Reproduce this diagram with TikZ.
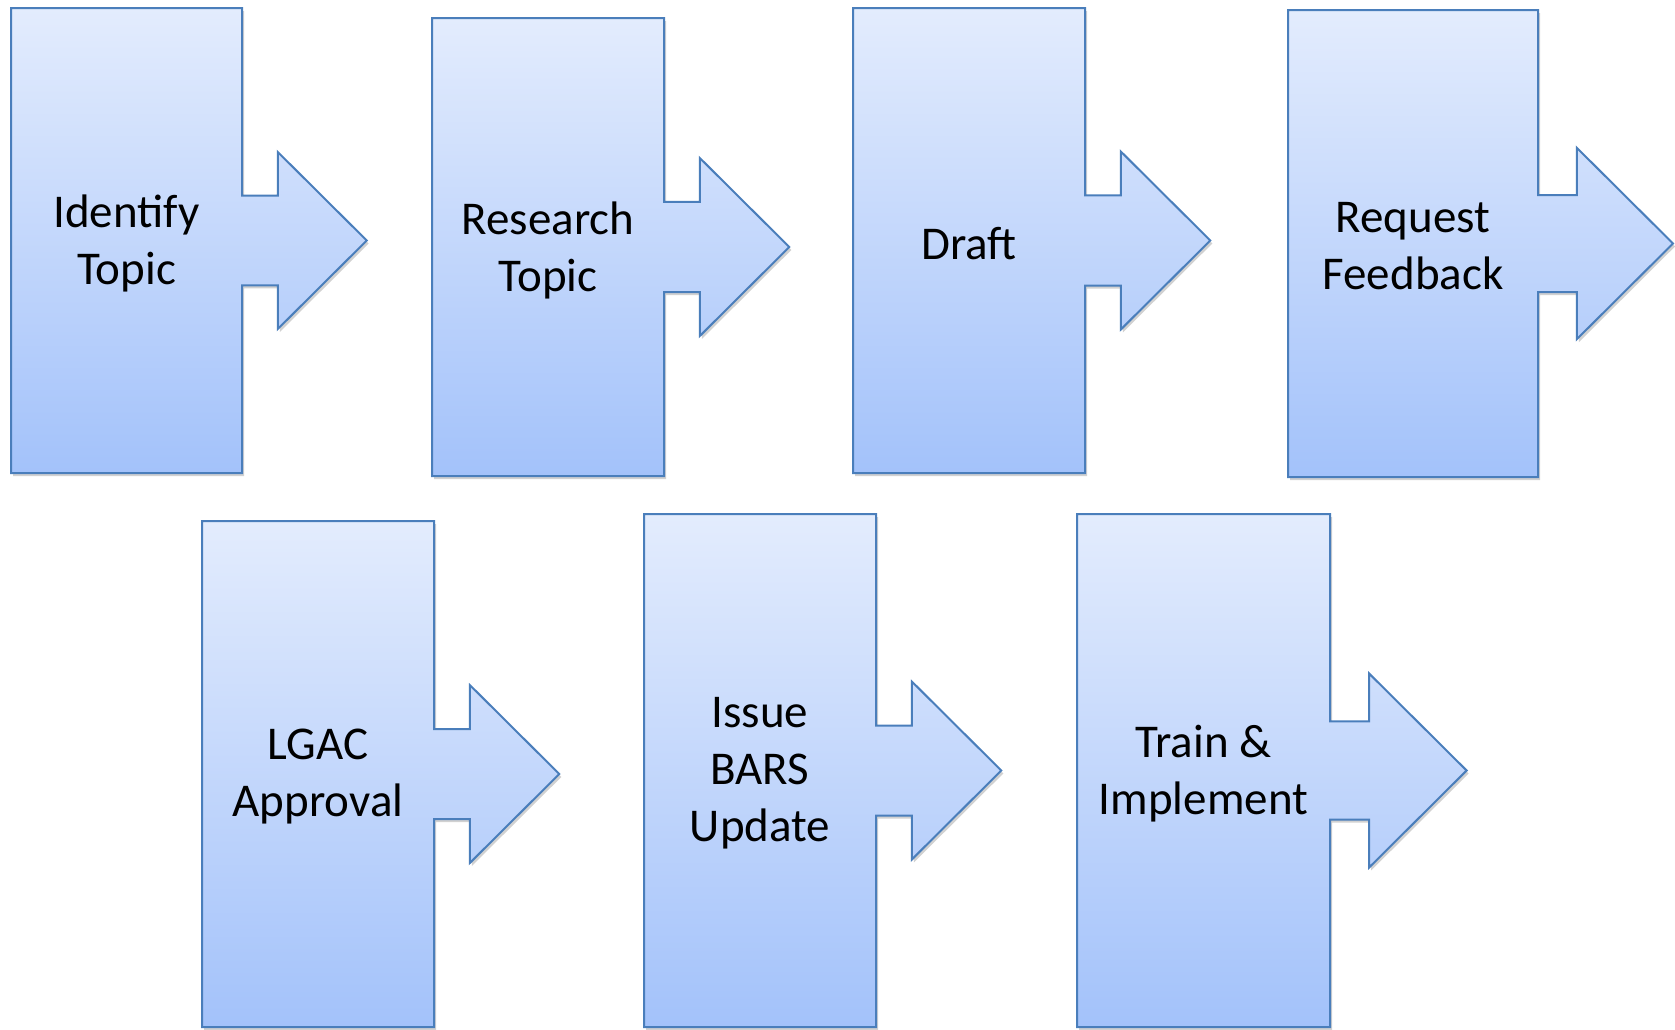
\documentclass[tikz,border=0pt]{standalone}
\usepackage{fontspec}
\setmainfont{Carlito}
\usetikzlibrary{shadows}
\definecolor{stepedge}{RGB}{74,126,187}
\definecolor{steptop}{RGB}{227,236,253}
\definecolor{stepbot}{RGB}{163,194,250}
% box with a right arrow on its side: name, left, top, right, bottom, text
\newcommand{\stepcallout}[6]{%
  \pgfmathsetmacro{\stepw}{#4-#2}%
  \pgfmathsetmacro{\stepmid}{(#3+#5)/2}%
  \pgfmathsetmacro{\stepneck}{0.194*\stepw}%
  \pgfmathsetmacro{\stephead}{0.383*\stepw}%
  \pgfmathsetmacro{\stepbase}{#4+0.155*\stepw}%
  \pgfmathsetmacro{\steptip}{#4+0.54*\stepw}%
  \draw[callout] (#2,#3) -- (#4,#3) -- (#4,\stepmid-\stepneck) -- (\stepbase,\stepmid-\stepneck)
    -- (\stepbase,\stepmid-\stephead) -- (\steptip,\stepmid) -- (\stepbase,\stepmid+\stephead)
    -- (\stepbase,\stepmid+\stepneck) -- (#4,\stepmid+\stepneck) -- (#4,#5) -- (#2,#5) -- cycle;
  \node[steplabel] (#1) at ({(#2+#4)/2},\stepmid+3) {#6};
}

\begin{document}
\begin{tikzpicture}[x=0.5pt, y=-0.5pt,
    callout/.style={draw=stepedge, line width=1pt, line join=miter, top color=steptop, bottom color=stepbot,
      drop shadow={shadow xshift=1pt, shadow yshift=-1.5pt, opacity=0.3, fill=black!60}},
    steplabel/.style={align=center, inner sep=0pt, font=\fontsize{23.5}{28.5}\selectfont}]
    \useasboundingbox (0,0) rectangle (1675,1029);
    % Top row
    \stepcallout{identify}{11}{8}{242}{473}{Identify\\Topic}
    \stepcallout{research}{432}{18}{664}{476}{Research\\Topic}
    \stepcallout{draft}{853}{8}{1085}{473}{Draft}
    \stepcallout{feedback}{1288}{10}{1538}{477}{Request\\Feedback}
    % Bottom row
    \stepcallout{approval}{202}{521}{434}{1027}{LGAC\\Approval}
    \stepcallout{update}{644}{514}{876}{1027}{Issue\\BARS\\Update}
    \stepcallout{train}{1077}{514}{1330}{1027}{Train \&\\Implement}
\end{tikzpicture}
\end{document}
